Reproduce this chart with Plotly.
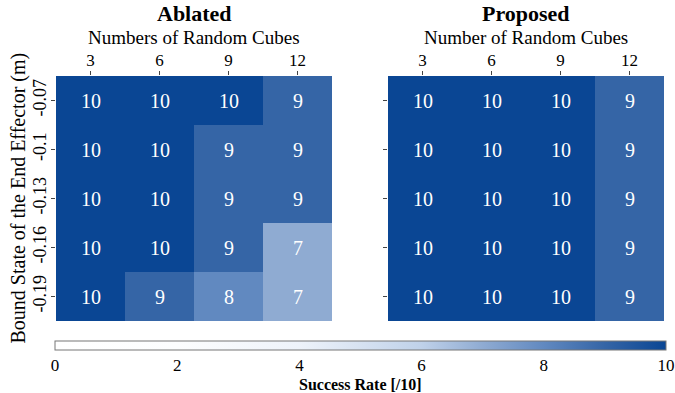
import plotly.graph_objects as go

# Grid labels
cube_counts = ["3", "6", "9", "12"]
bound_states = ["-0.07", "-0.1", "-0.13", "-0.16", "-0.19"]

# Success counts out of 10 (rows follow bound_states, columns follow cube_counts)
ablated = [
    [10, 10, 10, 9],
    [10, 10, 9, 9],
    [10, 10, 9, 9],
    [10, 10, 9, 7],
    [10, 9, 8, 7],
]
proposed = [
    [10, 10, 10, 9],
    [10, 10, 10, 9],
    [10, 10, 10, 9],
    [10, 10, 10, 9],
    [10, 10, 10, 9],
]

FONT = "Times New Roman, Liberation Serif, serif"
W, H = 675, 393

colorscale = [
    [0.0, "#ffffff"],
    [0.2, "#fcfdfe"],
    [0.4, "#eef3fa"],
    [0.6, "#bfd1e9"],
    [0.7, "#8fabd2"],
    [0.8, "#6189c0"],
    [0.9, "#3565a6"],
    [1.0, "#0a4694"],
]

def px_x(p):
    return p / W

def px_y(p):
    return 1 - p / H

fig = go.Figure()

common = dict(
    x=cube_counts,
    y=bound_states,
    zmin=0,
    zmax=10,
    colorscale=colorscale,
    texttemplate="%{z}",
    textfont=dict(family=FONT, size=20, color="white"),
    hoverinfo="skip",
)

fig.add_trace(go.Heatmap(z=ablated, xaxis="x", yaxis="y", showscale=False, **common))
fig.add_trace(go.Heatmap(
    z=proposed, xaxis="x2", yaxis="y2", showscale=True,
    colorbar=dict(
        orientation="h",
        x=px_x(55), xanchor="left",
        len=611 / W, lenmode="fraction",
        y=px_y(341), yanchor="top",
        thickness=9,
        outlinewidth=1, outlinecolor="#777777",
        tickvals=[0, 2, 4, 6, 8, 10],
        ticks="", ticklen=0,
        tickfont=dict(family=FONT, size=17, color="black"),
        xpad=0, ypad=0,
    ),
    **common,
))

xaxis_common = dict(
    side="top",
    ticks="outside", ticklen=4, tickcolor="#444",
    ticklabelstandoff=-2,
    tickfont=dict(family=FONT, size=17, color="black"),
    showgrid=False, zeroline=False, showline=False,
)
yaxis_common = dict(
    autorange="reversed",
    ticks="outside", ticklen=4, tickcolor="#444",
    tickangle=-90,
    ticklabelstandoff=-2,
    tickfont=dict(family=FONT, size=18, color="black"),
    showgrid=False, zeroline=False, showline=False,
)

left_dom = [px_x(56), px_x(332)]
right_dom = [px_x(388), px_x(664)]
y_dom = [px_y(321), px_y(76)]


def label(text, x, y, size, angle=0, bold=False):
    return dict(
        text=f"<b>{text}</b>" if bold else text,
        x=x, y=y, xref="paper", yref="paper",
        xanchor="center", yanchor="middle",
        showarrow=False, textangle=angle,
        font=dict(family=FONT, size=size, color="black"),
    )


fig.update_layout(
    width=W, height=H,
    margin=dict(l=0, r=0, t=0, b=0),
    paper_bgcolor="white", plot_bgcolor="white",
    font=dict(family=FONT, color="black"),
    xaxis=dict(domain=left_dom, anchor="y", **xaxis_common),
    yaxis=dict(domain=y_dom, anchor="x", **yaxis_common),
    xaxis2=dict(domain=right_dom, anchor="y2", **xaxis_common),
    yaxis2=dict(domain=y_dom, anchor="x2", showticklabels=False,
                **{k: v for k, v in yaxis_common.items() if k != "tickfont"}),
    annotations=[
        label("Ablated", sum(left_dom) / 2, px_y(14), 22, bold=True),
        label("Proposed", sum(right_dom) / 2, px_y(14), 22, bold=True),
        label("Numbers of Random Cubes", sum(left_dom) / 2, px_y(38), 19),
        label("Number of Random Cubes", sum(right_dom) / 2, px_y(38), 19),
        label("Bound State of the End Effector (m)", px_x(18), sum(y_dom) / 2, 20, angle=-90),
        label("Success Rate [/10]", px_x(360), px_y(384), 16, bold=True),
    ],
)

fig.write_html("out.html")
